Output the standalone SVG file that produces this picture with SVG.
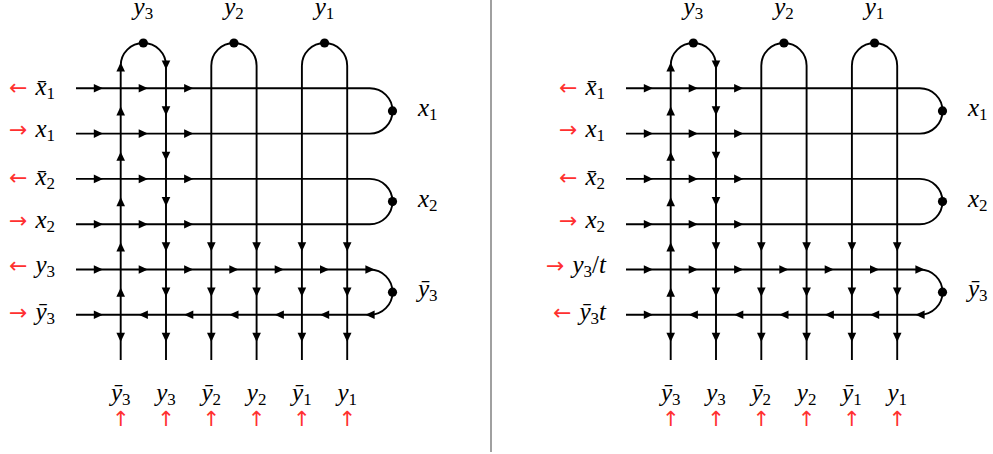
<svg xmlns="http://www.w3.org/2000/svg" xmlns:xlink="http://www.w3.org/1999/xlink" width="993" height="454" viewBox="0 0 993 454">
<style>
.ln{fill:none;stroke:#000;stroke-width:1.9}
.dot{fill:#000}
.m{font-family:"Liberation Serif","Times New Roman",serif;font-size:25px;font-style:italic;fill:#000}
.s{font-size:17px;font-style:normal}
.u{font-style:normal}
.ar{font-family:"DejaVu Sans",sans-serif;font-style:normal;font-size:22px;fill:#ff3030}
.ua{font-family:"DejaVu Sans",sans-serif;font-size:21px;fill:#ff3030}
</style>
<defs>
<path id="ah" d="M-4.6,-4.3 L4.6,0 L-4.6,4.3 Z" fill="#000"/>
<g id="grid">
<g id="connectors">
<path class="ln" d="M120.7,360.1 V65.65 A22.65,22.65 0 0 1 166,65.65 V360.1"/>
<path class="ln" d="M211.3,360.1 V65.65 A22.65,22.65 0 0 1 256.6,65.65 V360.1"/>
<path class="ln" d="M301.9,360.1 V65.65 A22.65,22.65 0 0 1 347.2,65.65 V360.1"/>
<path class="ln" d="M76,88.3 H369.85 A22.65,22.65 0 0 1 369.85,133.6 H76"/>
<path class="ln" d="M76,178.9 H369.85 A22.65,22.65 0 0 1 369.85,224.2 H76"/>
<path class="ln" d="M76,269.5 H369.85 A22.65,22.65 0 0 1 369.85,314.8 H76"/>
<use href="#ah" transform="translate(98.4,88.3)"/>
<use href="#ah" transform="translate(143.3,88.3)"/>
<use href="#ah" transform="translate(188.7,88.3)"/>
<use href="#ah" transform="translate(98.4,133.6)"/>
<use href="#ah" transform="translate(143.3,133.6)"/>
<use href="#ah" transform="translate(188.7,133.6)"/>
<use href="#ah" transform="translate(98.4,178.9)"/>
<use href="#ah" transform="translate(143.3,178.9)"/>
<use href="#ah" transform="translate(188.7,178.9)"/>
<use href="#ah" transform="translate(98.4,224.2)"/>
<use href="#ah" transform="translate(143.3,224.2)"/>
<use href="#ah" transform="translate(188.7,224.2)"/>
<use href="#ah" transform="translate(98.4,269.5)"/>
<use href="#ah" transform="translate(143.3,269.5)"/>
<use href="#ah" transform="translate(188.7,269.5)"/>
<use href="#ah" transform="translate(233.9,269.5)"/>
<use href="#ah" transform="translate(279.3,269.5)"/>
<use href="#ah" transform="translate(324.6,269.5)"/>
<use href="#ah" transform="translate(370,269.5)"/>
<use href="#ah" transform="translate(98.4,314.8)"/>
<use href="#ah" transform="translate(143.3,314.8) rotate(180)"/>
<use href="#ah" transform="translate(188.7,314.8) rotate(180)"/>
<use href="#ah" transform="translate(233.9,314.8) rotate(180)"/>
<use href="#ah" transform="translate(279.3,314.8) rotate(180)"/>
<use href="#ah" transform="translate(324.6,314.8) rotate(180)"/>
<use href="#ah" transform="translate(370,314.8) rotate(180)"/>
<use href="#ah" transform="translate(120.7,67) rotate(-90)"/>
<use href="#ah" transform="translate(120.7,110.95) rotate(-90)"/>
<use href="#ah" transform="translate(120.7,156.25) rotate(-90)"/>
<use href="#ah" transform="translate(120.7,201.55) rotate(-90)"/>
<use href="#ah" transform="translate(120.7,246.85) rotate(-90)"/>
<use href="#ah" transform="translate(120.7,292.15) rotate(-90)"/>
<use href="#ah" transform="translate(120.7,337.45) rotate(90)"/>
<use href="#ah" transform="translate(166,65) rotate(90)"/>
<use href="#ah" transform="translate(166,110.95) rotate(90)"/>
<use href="#ah" transform="translate(166,156.25) rotate(90)"/>
<use href="#ah" transform="translate(166,201.55) rotate(90)"/>
<use href="#ah" transform="translate(166,246.85) rotate(90)"/>
<use href="#ah" transform="translate(166,292.15) rotate(90)"/>
<use href="#ah" transform="translate(166,337.45) rotate(90)"/>
<use href="#ah" transform="translate(211.3,246.85) rotate(90)"/>
<use href="#ah" transform="translate(211.3,292.15) rotate(90)"/>
<use href="#ah" transform="translate(211.3,337.45) rotate(90)"/>
<use href="#ah" transform="translate(256.6,246.85) rotate(90)"/>
<use href="#ah" transform="translate(256.6,292.15) rotate(90)"/>
<use href="#ah" transform="translate(256.6,337.45) rotate(90)"/>
<use href="#ah" transform="translate(301.9,246.85) rotate(90)"/>
<use href="#ah" transform="translate(301.9,292.15) rotate(90)"/>
<use href="#ah" transform="translate(301.9,337.45) rotate(90)"/>
<use href="#ah" transform="translate(347.2,246.85) rotate(90)"/>
<use href="#ah" transform="translate(347.2,292.15) rotate(90)"/>
<use href="#ah" transform="translate(347.2,337.45) rotate(90)"/>
</g>
<g id="dots">
<circle class="dot" cx="143.35" cy="43" r="4.6"/>
<circle class="dot" cx="233.95" cy="43" r="4.6"/>
<circle class="dot" cx="324.55" cy="43" r="4.6"/>
<circle class="dot" cx="392.5" cy="110.95" r="4.6"/>
<circle class="dot" cx="392.5" cy="201.55" r="4.6"/>
<circle class="dot" cx="392.5" cy="292.15" r="4.6"/>
</g>
<g id="commonlabels">
<text class="m" x="143.35" y="15" text-anchor="middle">y<tspan class="s" dy="4">3</tspan></text>
<text class="m" x="233.95" y="15" text-anchor="middle">y<tspan class="s" dy="4">2</tspan></text>
<text class="m" x="324.55" y="15" text-anchor="middle">y<tspan class="s" dy="4">1</tspan></text>
<text class="m" x="418" y="115.5">x<tspan class="s" dy="4">1</tspan></text>
<text class="m" x="418" y="206.5">x<tspan class="s" dy="4">2</tspan></text>
<text class="m" x="418" y="297">ȳ<tspan class="s" dy="4">3</tspan></text>
<text class="m" x="120.7" y="401" text-anchor="middle">ȳ<tspan class="s" dy="4">3</tspan></text>
<text class="m" x="166" y="401" text-anchor="middle">y<tspan class="s" dy="4">3</tspan></text>
<text class="m" x="211.3" y="401" text-anchor="middle">ȳ<tspan class="s" dy="4">2</tspan></text>
<text class="m" x="256.6" y="401" text-anchor="middle">y<tspan class="s" dy="4">2</tspan></text>
<text class="m" x="301.9" y="401" text-anchor="middle">ȳ<tspan class="s" dy="4">1</tspan></text>
<text class="m" x="347.2" y="401" text-anchor="middle">y<tspan class="s" dy="4">1</tspan></text>
<text class="ua" x="120.7" y="426" text-anchor="middle">↑</text>
<text class="ua" x="166" y="426" text-anchor="middle">↑</text>
<text class="ua" x="211.3" y="426" text-anchor="middle">↑</text>
<text class="ua" x="256.6" y="426" text-anchor="middle">↑</text>
<text class="ua" x="301.9" y="426" text-anchor="middle">↑</text>
<text class="ua" x="347.2" y="426" text-anchor="middle">↑</text>
<text class="m" x="55" y="95" text-anchor="end"><tspan class="ar">←</tspan><tspan dx="8">x̄</tspan><tspan class="s" dy="4">1</tspan></text>
<text class="m" x="55" y="137" text-anchor="end"><tspan class="ar">→</tspan><tspan dx="8">x</tspan><tspan class="s" dy="4">1</tspan></text>
<text class="m" x="55" y="185" text-anchor="end"><tspan class="ar">←</tspan><tspan dx="8">x̄</tspan><tspan class="s" dy="4">2</tspan></text>
<text class="m" x="55" y="228" text-anchor="end"><tspan class="ar">→</tspan><tspan dx="8">x</tspan><tspan class="s" dy="4">2</tspan></text>
</g>
</g>
</defs>
<g id="panel-left">
<use href="#grid"/>
<g id="left-labels">
<text class="m" x="55" y="273" text-anchor="end"><tspan class="ar">←</tspan><tspan dx="8">y</tspan><tspan class="s" dy="4">3</tspan></text>
<text class="m" x="55" y="320" text-anchor="end"><tspan class="ar">→</tspan><tspan dx="8">ȳ</tspan><tspan class="s" dy="4">3</tspan></text>
</g>
</g>
<line id="divider" x1="491" y1="0" x2="491" y2="452" stroke="#808080" stroke-width="1.5"/>
<g id="panel-right">
<use href="#grid" x="550"/>
<g id="right-labels">
<text class="m" x="606" y="273" text-anchor="end"><tspan class="ar">→</tspan><tspan dx="8">y</tspan><tspan class="s" dy="4">3</tspan><tspan class="u" dy="-4">/</tspan><tspan>t</tspan></text>
<text class="m" x="606" y="320" text-anchor="end"><tspan class="ar">←</tspan><tspan dx="8">ȳ</tspan><tspan class="s" dy="4">3</tspan><tspan dy="-4">t</tspan></text>
</g>
</g>
</svg>
